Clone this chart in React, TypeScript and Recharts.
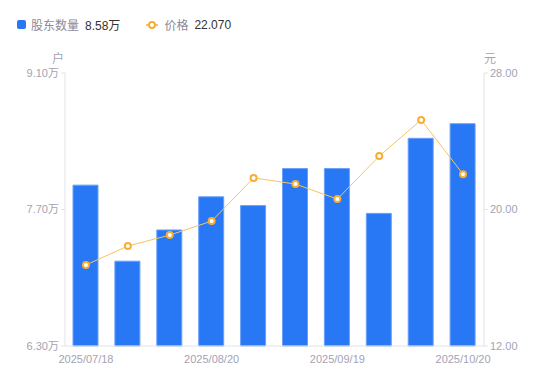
import { Bar, ComposedChart, Line, XAxis, YAxis } from 'recharts';

const dates = [
  '2025/07/18',
  '2025/07/31',
  '2025/08/10',
  '2025/08/20',
  '2025/08/31',
  '2025/09/10',
  '2025/09/19',
  '2025/09/30',
  '2025/10/10',
  '2025/10/20',
];
// 股东数量 (万户)
const holders = [7.95, 7.17, 7.49, 7.83, 7.74, 8.12, 8.12, 7.66, 8.43, 8.58];
// 价格 (元)
const prices = [16.75, 17.86, 18.5, 19.32, 21.85, 21.49, 20.61, 23.13, 25.25, 22.07];

const leftTicks = [6.3, 7.7, 9.1];
const rightTicks = [12, 20, 28];

const data = dates.map((date, i) => ({
  date,
  holders: holders[i],
  price: prices[i],
}));

const FONT = '"Liberation Sans", "Noto Sans CJK SC", sans-serif';
const BLUE = '#2878f5';
const ORANGE = '#f7ae35';
const GREY = '#a3a3b3';

export default function App() {
  return (
    <div
      style={{
        position: 'absolute',
        left: 0,
        top: 0,
        width: 550,
        height: 381,
        fontFamily: FONT,
        background: '#fff',
      }}
    >
      <div
        style={{
          position: 'absolute',
          left: 17,
          top: 16,
          display: 'flex',
          alignItems: 'center',
          fontSize: 12,
          whiteSpace: 'nowrap',
        }}
      >
        <span
          style={{ width: 9, height: 9, background: BLUE, borderRadius: 2, display: 'inline-block' }}
        />
        <span style={{ color: '#8a8a99', marginLeft: 5 }}>股东数量</span>
        <span style={{ color: '#333', marginLeft: 6 }}>8.58万</span>
        <svg width={12} height={10} style={{ marginLeft: 26 }}>
          <line x1={0} y1={5} x2={12} y2={5} stroke={ORANGE} strokeWidth={1.5} />
          <circle cx={6} cy={5} r={3} fill="#fff" stroke={ORANGE} strokeWidth={2} />
        </svg>
        <span style={{ color: '#8a8a99', marginLeft: 6 }}>价格</span>
        <span style={{ color: '#333', marginLeft: 6 }}>22.070</span>
      </div>
      <span style={{ position: 'absolute', left: 52, top: 49, fontSize: 12, color: GREY }}>户</span>
      <span style={{ position: 'absolute', left: 484, top: 49, fontSize: 12, color: GREY }}>元</span>
      <ComposedChart
        width={550}
        height={381}
        data={data}
        margin={{ top: 73, right: 0, bottom: 0, left: 0 }}
        style={{ position: 'absolute', left: 0, top: 0 }}
      >
        <XAxis
          dataKey="date"
          interval={2}
          height={35}
          tickLine={false}
          axisLine={{ stroke: '#e3e3e8' }}
          tick={{ fill: GREY, fontSize: 11 }}
          tickMargin={3}
        />
        <YAxis
          yAxisId="left"
          orientation="left"
          width={65}
          domain={[6.3, 9.1]}
          ticks={leftTicks}
          tickFormatter={(v: number) => v.toFixed(2) + '万'}
          axisLine={{ stroke: '#e3e3e8' }}
          tickLine={{ stroke: '#e3e3e8' }}
          tickSize={4}
          tick={{ fill: GREY, fontSize: 11 }}
        />
        <YAxis
          yAxisId="right"
          orientation="right"
          width={66}
          domain={[12, 28]}
          ticks={rightTicks}
          tickFormatter={(v: number) => v.toFixed(2)}
          axisLine={{ stroke: '#e3e3e8' }}
          tickLine={{ stroke: '#e3e3e8' }}
          tickSize={4}
          tick={{ fill: GREY, fontSize: 11 }}
        />
        <Bar
          yAxisId="left"
          dataKey="holders"
          fill={BLUE}
          stroke="#6a9ff8"
          strokeWidth={1}
          barSize={25}
          isAnimationActive={false}
        />
        <Line
          yAxisId="right"
          dataKey="price"
          type="linear"
          stroke="#f8c461"
          strokeWidth={1}
          dot={{ r: 3, fill: '#fff', stroke: ORANGE, strokeWidth: 2 }}
          isAnimationActive={false}
        />
      </ComposedChart>
    </div>
  );
}
